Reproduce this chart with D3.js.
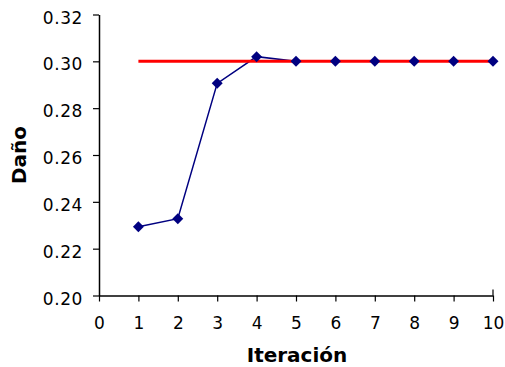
<!DOCTYPE html>
<html><head><meta charset="utf-8">
<script src="https://cdn.jsdelivr.net/npm/d3@7"></script>
<style>
html,body{margin:0;padding:0;background:#fff;}
svg{display:block;font-family:"DejaVu Sans",Verdana,sans-serif;}
</style></head>
<body>
<svg id="c" width="505" height="367"></svg>
<script>
const iterations = [1,2,3,4,5,6,7,8,9,10];
const damage = [0.2294,0.2328,0.2906,0.3020,0.300,0.300,0.300,0.300,0.300,0.300];
const targetX = [1,10];
const targetValue = 0.30;
const yTicks = [0.20,0.22,0.24,0.26,0.28,0.30,0.32];
const xTicks = [0,1,2,3,4,5,6,7,8,9,10];
const xTitle = "Iteración";
const yTitle = "Daño";

const svg = d3.select("#c");
const x = d3.scaleLinear().domain([0,10]).range([99,493]);
const y = d3.scaleLinear().domain([0.20,0.32]).range([295.5,14.5]);

const yAxis = svg.append("g").attr("transform","translate(99,0)")
  .call(d3.axisLeft(y).tickValues(yTicks).tickFormat(d3.format(".2f")).tickSize(6).tickPadding(10).tickSizeOuter(0));
const xAxis = svg.append("g").attr("transform","translate(0,295.5)")
  .call(d3.axisBottom(x).tickValues(xTicks).tickFormat(d3.format("d")).tickSize(6).tickPadding(15).tickSizeOuter(0));
[yAxis,xAxis].forEach(a=>{
  a.select(".domain").attr("stroke","#000").attr("stroke-width",1.5);
  a.selectAll(".tick line").attr("stroke","#000").attr("stroke-width",1.2);
  a.selectAll("text").attr("fill","#000").style("font-size","17px").style("font-family","'DejaVu Sans',Verdana,sans-serif");
});
yAxis.selectAll("text").attr("dy","0.5em").style("letter-spacing","0.6px");
// end tick at right extends above axis
svg.append("line").attr("x1",x(10)).attr("x2",x(10)).attr("y1",y(0.20)-6).attr("y2",y(0.20))
  .attr("stroke","#000").attr("stroke-width",1.2);

const line = d3.line().x((d,i)=>x(iterations[i])).y(d=>y(d));
svg.append("path").datum(damage).attr("d",line).attr("fill","none").attr("stroke","#000080").attr("stroke-width",1.5);

svg.append("line").attr("x1",x(targetX[0])).attr("x2",x(targetX[1]))
  .attr("y1",y(targetValue)).attr("y2",y(targetValue))
  .attr("stroke","#ff0000").attr("stroke-width",3);

const sym = d3.symbol().type(d3.symbolSquare).size(60);
svg.selectAll(".m").data(damage).join("path").attr("class","m")
  .attr("d",sym)
  .attr("transform",(d,i)=>`translate(${x(iterations[i])},${y(d)}) rotate(45)`)
  .attr("fill","#000080");

svg.append("text").attr("x",x(5)+1).attr("y",362).attr("text-anchor","middle")
  .style("font-size","20px").style("font-weight","bold").text(xTitle);
svg.append("text").attr("transform",`translate(26,${(y(0.20)+y(0.32))/2}) rotate(-90)`)
  .attr("text-anchor","middle").style("font-size","20px").style("font-weight","bold").text(yTitle);
</script>
</body></html>
